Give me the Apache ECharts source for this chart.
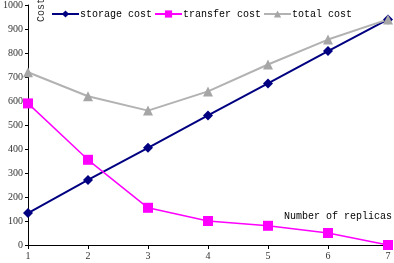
<!DOCTYPE html>
<html><head><meta charset="utf-8">
<script src="https://cdn.jsdelivr.net/npm/echarts@6/dist/echarts.min.js"></script>
<style>html,body{margin:0;padding:0;background:#fff}#c{width:394px;height:263px}</style>
</head><body><div id="c"></div>
<script>
var replicas = [1, 2, 3, 4, 5, 6, 7];
var storageCost = [133, 271, 405, 540, 673, 808, 940];
var transferCost = [590, 355, 155, 100, 80, 50, 0];
var totalCost = [720, 620, 560, 640, 752, 856, 940];
var seriesNames = ['storage cost', 'transfer cost', 'total cost'];
var xTitle = 'Number of replicas';
var yTitle = 'Cost';

function pairs(v){ return replicas.map(function(x,i){ return [x, v[i]]; }); }

var chart = echarts.init(document.getElementById('c'));
var mono = 'Liberation Mono';
var serif = 'Liberation Serif';
chart.setOption({
  animation: false,
  grid: {left: 28, right: 6, top: 5, bottom: 18, containLabel: false},
  legend: {
    left: 46, top: 4, itemWidth: 27, itemHeight: 9, itemGap: 2,
    textStyle: {fontFamily: mono, fontSize: 10, color: '#000', padding: [0,0,0,-4]},
    data: seriesNames
  },
  graphic: [
    {type: 'text', right: 2, top: 211, style: {text: xTitle, font: '10px ' + mono, fill: '#000'}},
    {type: 'text', x: 41, y: 22, rotation: Math.PI/2, style: {text: yTitle, font: '10px ' + mono, fill: '#333', align: 'left', verticalAlign: 'middle'}}
  ],
  xAxis: {
    type: 'value', min: 1, max: 7, interval: 1,
    axisLine: {lineStyle: {color: '#000', width: 1}},
    axisTick: {show: true, length: 4, lineStyle: {color: '#000'}},
    axisLabel: {fontFamily: serif, fontSize: 10, color: '#333', margin: 6},
    splitLine: {show: false}
  },
  yAxis: {
    type: 'value', min: 0, max: 1000, interval: 100,
    axisLine: {show: true, lineStyle: {color: '#000', width: 1}},
    axisTick: {show: true, length: 3, lineStyle: {color: '#000'}},
    axisLabel: {fontFamily: serif, fontSize: 10, color: '#333', margin: 5, formatter: function(v){ return String(v); }},
    splitLine: {show: false}
  },
  series: [
    {name: seriesNames[0], type: 'line', data: pairs(storageCost), symbol: 'diamond', symbolSize: 10,
     itemStyle: {color: '#000080'}, lineStyle: {color: '#000080', width: 2}},
    {name: seriesNames[1], type: 'line', data: pairs(transferCost), symbol: 'rect', symbolSize: 10,
     itemStyle: {color: '#FF00FF'}, lineStyle: {color: '#FF00FF', width: 1.5}},
    {name: seriesNames[2], type: 'line', data: pairs(totalCost), symbol: 'triangle', symbolSize: 10,
     itemStyle: {color: '#A6A6A6'}, lineStyle: {color: '#B2B2B2', width: 2}}
  ]
});
</script></body></html>
